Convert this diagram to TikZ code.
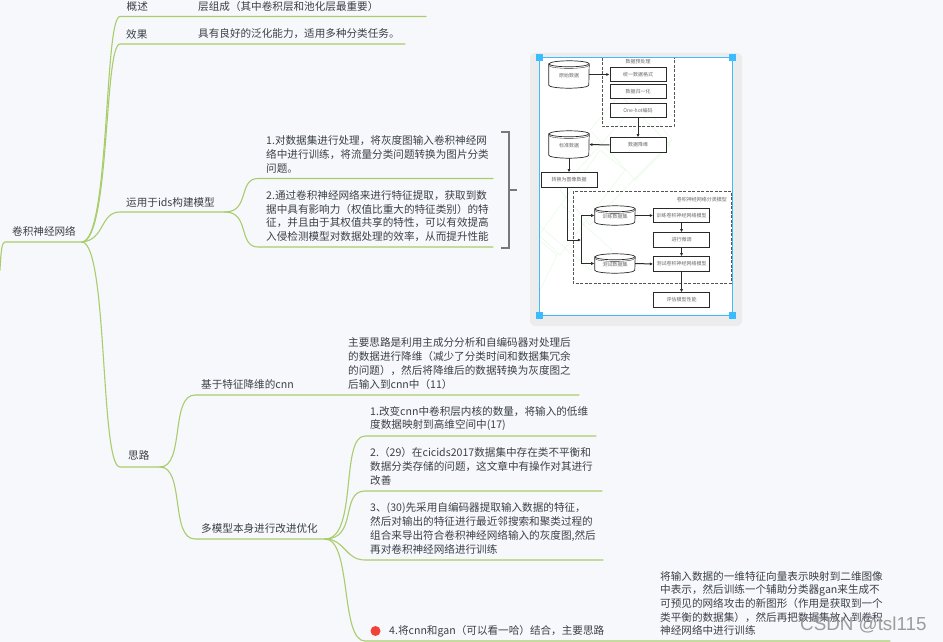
\documentclass[tikz,border=0pt]{standalone}
\usepackage{fontspec}
\setmainfont{Noto Sans CJK SC}
\newfontfamily\wmfont{Liberation Sans}
\usetikzlibrary{arrows.meta}
\definecolor{bgc}{HTML}{F7F8FB}
\definecolor{branchc}{HTML}{A9CC6C}
\definecolor{txtc}{HTML}{3A4048}
\definecolor{brk}{HTML}{77787C}
\definecolor{panelc}{HTML}{ECECEC}
\definecolor{selc}{HTML}{3DBBFF}
\definecolor{inkc}{HTML}{2A2A2A}
\definecolor{wmgreen}{HTML}{E4FBE4}
\definecolor{dotc}{HTML}{F04438}
\newcommand{\cylshape}[1]{%
  \draw[cylline,fill=white] (#1.north west) -- (#1.south west)
    arc[start angle=180,end angle=360,x radius=20pt,y radius=3pt]
    -- (#1.north east) arc[start angle=0,end angle=180,x radius=20pt,y radius=3pt] -- cycle;
  \draw[cylline] (#1.north west) arc[start angle=180,end angle=360,x radius=20pt,y radius=3pt];
  \draw[cylline,line width=.35pt] ([yshift=-1.6pt]#1.north west) arc[start angle=180,end angle=360,x radius=20pt,y radius=3pt];
}
\tikzset{
  x=1pt,y=-1pt,
  branch/.style={draw=branchc,line width=1.1pt,line cap=round},
  lab/.style={anchor=west,inner sep=0pt,text=txtc,align=left,font=\fontsize{10.6}{13.7}\selectfont},
  mini/.style={draw=inkc,line width=1pt,fill=white,minimum width=56pt,minimum height=14.5pt,inner sep=0pt,text=inkc!70,font=\fontsize{5}{6}\selectfont},
  cylnode/.style={minimum width=40pt,inner sep=0pt,text=inkc!70,font=\fontsize{5}{6}\selectfont},
  cylline/.style={draw=inkc,line width=.7pt},
  flow/.style={draw=inkc,line width=.6pt,-{Latex[length=3.2pt,width=3.2pt]}},
  flowb/.style={draw=inkc,line width=1pt,-{Latex[length=3.2pt,width=3.2pt]}},
  dbox/.style={draw=inkc!80,line width=1pt,dashed,dash pattern=on 3pt off 1.5pt},
  minititle/.style={inner sep=0pt,text=inkc!70,font=\fontsize{5}{6}\selectfont},
  handle/.style={fill=selc,minimum size=7pt,inner sep=0pt},
}
\begin{document}
\begin{tikzpicture}
\useasboundingbox (0,0) rectangle (943,642);
\fill[bgc] (0,0) rectangle (943,642);

% ---------- tree junction coordinates
\coordinate (rootL) at (5,242);
\coordinate (rootR) at (82,242);
\coordinate (rootOut) at (0,270);
\coordinate (gsL) at (120,16.5);   \coordinate (gsR) at (426,16.5);
\coordinate (xgL) at (120,44);     \coordinate (xgR) at (405,44);
\coordinate (idsL) at (120,212);   \coordinate (idsR) at (225,212);
\coordinate (i1L) at (258,178.5);  \coordinate (i1R) at (493,178.5);
\coordinate (i2L) at (258,247);    \coordinate (i2R) at (493,247);
\coordinate (slL) at (120,467);    \coordinate (slR) at (160,467);
\coordinate (jwL) at (195,395);    \coordinate (jwR) at (579,395);
\coordinate (dmL) at (195,539);    \coordinate (dmR) at (325,539);
\coordinate (m1L) at (365,436);    \coordinate (m1R) at (596,436);
\coordinate (m2L) at (365,491);    \coordinate (m2R) at (602,491);
\coordinate (m3L) at (365,560);    \coordinate (m3R) at (603,560);
\coordinate (m4L) at (365,641);    \coordinate (m4R) at (890,641);

% ---------- branches
\draw[branch] (rootOut) .. controls (1,250) and (2,242) .. (rootL) -- (rootR);
\draw[branch] (rootR) .. controls (110,240) and (104,16.5) .. (gsL) -- (gsR);
\draw[branch] (rootR) .. controls (110,240) and (104,44) .. (xgL) -- (xgR);
\draw[branch] (rootR) .. controls (105,240) and (100,212) .. (idsL) -- (idsR);
\draw[branch] (idsR) .. controls (250,212) and (238,178.5) .. (i1L) -- (i1R);
\draw[branch] (idsR) .. controls (250,212) and (238,247) .. (i2L) -- (i2R);
\draw[branch] (rootR) .. controls (108,244) and (100,467) .. (slL) -- (slR);
\draw[branch] (slR) .. controls (185,467) and (170,395) .. (jwL) -- (jwR);
\draw[branch] (slR) .. controls (185,467) and (170,539) .. (dmL) -- (dmR);
\draw[branch] (dmR) .. controls (358,539) and (340,436) .. (m1L) -- (m1R);
\draw[branch] (dmR) .. controls (358,539) and (340,491) .. (m2L) -- (m2R);
\draw[branch] (dmR) .. controls (345,539) and (345,560) .. (m3L) -- (m3R);
\draw[branch] (dmR) .. controls (352,539) and (340,641) .. (m4L) -- (m4R);

% ---------- tree labels
\node[lab] (root) at (12,231) {卷积神经网络};
\node[lab] (gs) at (126.5,6) {概述};
\node[lab] (gst) at (198,6) {层组成（其中卷积层和池化层最重要）};
\node[lab] (xg) at (126,34) {效果};
\node[lab] (xgt) at (198,34) {具有良好的泛化能力，适用多种分类任务。};
\node[lab] (ids) at (126,202) {运用于ids构建模型};
\node[lab] (i1) at (266,154.5) {1.对数据集进行处理，将灰度图输入卷积神经网\\络中进行训练，将流量分类问题转换为图片分类\\问题。};
\node[lab] (i2) at (266,216) {2.通过卷积神经网络来进行特征提取，获取到数\\据中具有影响力（权值比重大的特征类别）的特\\征，并且由于其权值共享的特性，可以有效提高\\入侵检测模型对数据处理的效率，从而提升性能};
\node[lab] (sl) at (128,455) {思路};
\node[lab] (jw) at (201,384) {基于特征降维的cnn};
\node[lab] (jwt) at (348,363.5) {主要思路是利用主成分分析和自编码器对处理后\\的数据进行降维（减少了分类时间和数据集冗余\\的问题），然后将降维后的数据转换为灰度图之\\后输入到cnn中（11）};
\node[lab] (dm) at (201,528) {多模型本身进行改进优化};
\node[lab] (m1) at (370,418.5) {1.改变cnn中卷积层内核的数量，将输入的低维\\度数据映射到高维空间中(17)};
\node[lab] (m2) at (370,466.5) {2.（29）在cicids2017数据集中存在类不平衡和\\数据分类存储的问题，这文章中有操作对其进行\\改善};
\node[lab] (m3) at (370,528.5) {3、(30)先采用自编码器提取输入数据的特征，\\然后对输出的特征进行最近邻搜索和聚类过程的\\组合来导出符合卷积神经网络输入的灰度图,然后\\再对卷积神经网络进行训练};
\node[circle,fill=dotc,minimum size=10pt,inner sep=0pt] (dot) at (375.5,631) {};
\node[lab] (m4) at (389,631) {4.将cnn和gan（可以看一哈）结合，主要思路};
\node[lab] (m4t) at (660,603.5) {将输入数据的一维特征向量表示映射到二维图像\\中表示，然后训练一个辅助分类器gan来生成不\\可预见的网络攻击的新图形（作用是获取到一个\\类平衡的数据集），然后再把数据集放入到卷积\\神经网络中进行训练};

% ---------- bracket
\coordinate (bT) at (501,132); \coordinate (bTc) at (509,132);
\coordinate (bB) at (501,248); \coordinate (bBc) at (509,248);
\coordinate (bM) at (509,190); \coordinate (bE) at (517,190);
\draw[brk,line width=1.1pt] (bT) -- (bTc) -- (bBc) -- (bB);
\draw[brk,line width=1.1pt] (bM) -- (bE);

% ---------- embedded figure panel
\fill[panelc,rounded corners=5pt] (530,53) rectangle (742,326);
\fill[white] (539,58) rectangle (732,316);
\begin{scope}
\clip (539,58) rectangle (732,316);
\draw[wmgreen,line width=.5pt] (539,235) -- (600,150) -- (625,170) -- (560,255) -- cycle;
\draw[wmgreen,line width=.5pt] (560,190) -- (640,100) -- (672,140) -- (590,225) -- cycle;
\draw[wmgreen,line width=.5pt] (590,130) -- (620,95) -- (670,145) -- (635,180) -- cycle;
\draw[wmgreen,line width=.5pt] (539,240) -- (557,255) -- (540,290);
\draw[wmgreen,line width=.5pt] (562,205) -- (612,250) -- (590,270) -- (539,225);
\end{scope}

\node[cylnode,minimum height=21pt] (c1) at (569,74.5) {};
\node[cylnode,minimum height=21pt] (c2) at (569,144.5) {};
\node[cylnode,minimum height=13pt] (c3) at (615,215.5) {};
\node[cylnode,minimum height=13pt] (c4) at (615,263.5) {};
\cylshape{c1}\cylshape{c2}\cylshape{c3}\cylshape{c4}
\node[minititle] (c1t) at ([yshift=-1.5pt]c1) {原始数据};
\node[minititle] (c2t) at ([yshift=-1.5pt]c2) {标准数据};
\node[minititle] (c3t) at ([yshift=-1.5pt]c3) {训练数据集};
\node[minititle] (c4t) at ([yshift=-1.5pt]c4) {测试数据集};

\draw[dbox] (602,58) -- (602,126) -- (674,126) -- (674,58);
\draw[dbox] (573,191) rectangle (731,283);
\node[minititle] (t1) at (638,62) {数据预处理};
\node[minititle,anchor=east] (t2) at (727,200) {卷积神经网络分类模型};

\node[mini] (b1) at (638,74.5) {统一数据格式};
\node[mini] (b2) at (638,91.5) {数据归一化};
\node[mini] (b3) at (638,110.5) {One-hot编码};
\node[mini] (b4) at (638,145) {数据降维};
\node[mini] (b5) at (569,180) {转换为图像数据};
\node[mini] (b6) at (681.5,215.5) {训练卷积神经网络模型};
\node[mini] (b7) at (681.5,240) {进行微调};
\node[mini] (b8) at (681.5,264) {测试卷积神经网络模型};
\node[mini] (b9) at (681.5,300) {评估模型性能};

\coordinate (j1) at (567,240);
\coordinate (j2) at (581,240);
\coordinate (j3) at (581,215.5);
\coordinate (j4) at (581,263.5);
\draw[flow] (c1.east) -- (b1.west);
\draw[flow] (b3.south) -- (b4.north);
\draw[flowb] (b4.west) -- (c2.east);
\draw[flow] (c2.south) ++(0,3) -- (b5.north);
\draw[flow] (b5.south -| j1) -- (j1) -- (j2);
\draw[flow] (j2) -- (j3) -- ([xshift=-.5pt]c3.west);
\draw[flowb] (j2) -- (j4) -- ([xshift=-.5pt]c4.west);
\draw[flowb] (c3.east) -- (b6.west);
\draw[flowb] (c4.east) -- (b8.west);
\draw[flow] (b6.south) -- (b7.north);
\draw[flow] (b7.south) -- (b8.north);
\draw[flow] (b8.south) -- (b9.north);

% selection frame
\draw[selc,line width=.8pt] (539.5,57.5) rectangle (732.5,315.5);
\node[handle] (h1) at (539.5,57.5) {};
\node[handle] (h2) at (732.5,57.5) {};
\node[handle] (h3) at (539.5,315.5) {};
\node[handle] (h4) at (732.5,315.5) {};

% watermark
\node[anchor=west,inner sep=0pt,text=black!45,opacity=.85,font=\wmfont\fontsize{18.8}{21}\selectfont] (wm) at (800,625) {CSDN @tsl115};
\end{tikzpicture}
\end{document}
